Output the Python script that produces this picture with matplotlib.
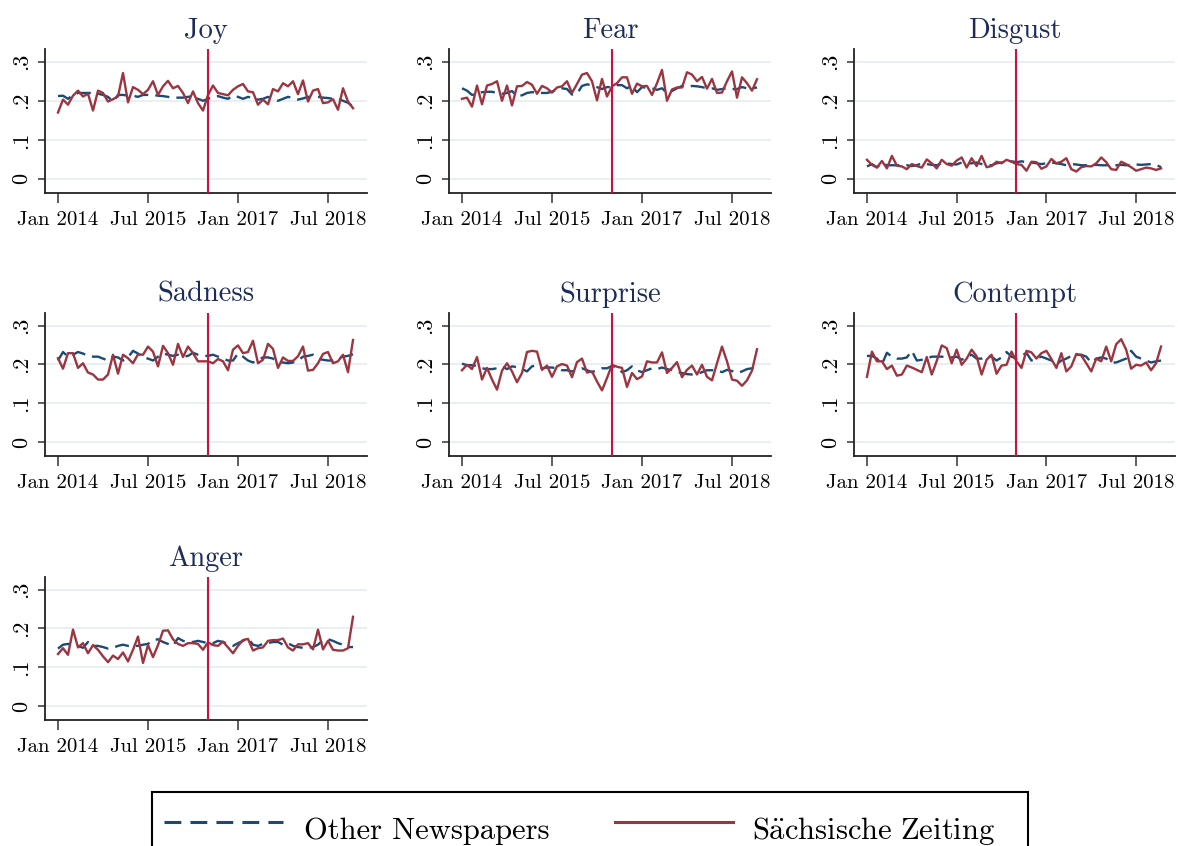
import matplotlib
matplotlib.use("Agg")
import matplotlib.pyplot as plt
from matplotlib.lines import Line2D
from matplotlib.patches import Rectangle

plt.rcParams['font.family'] = ['cmr10', 'DejaVu Serif']
plt.rcParams['mathtext.fontset'] = 'cm'
plt.rcParams['axes.unicode_minus'] = False

# ---- data (monthly, Jan 2014 - Dec 2018) ----
months = list(range(60))
tick_pos = [0, 18, 36, 54]
tick_labels = ["Jan 2014", "Jul 2015", "Jan 2017", "Jul 2018"]
ytick_vals = [0, 0.1, 0.2, 0.3]
ytick_labels = ["0", ".1", ".2", ".3"]
event_month = 30  # Jul 2016

panels = ["Joy", "Fear", "Disgust", "Sadness", "Surprise", "Contempt", "Anger"]

joy_sz = [0.170, 0.203, 0.190, 0.213, 0.226, 0.211, 0.218, 0.175, 0.226, 0.220,
          0.198, 0.204, 0.211, 0.271, 0.196, 0.235, 0.228, 0.217, 0.228, 0.250,
          0.215, 0.237, 0.251, 0.232, 0.238, 0.220, 0.194, 0.224, 0.194, 0.175,
          0.215, 0.239, 0.220, 0.217, 0.214, 0.228, 0.237, 0.243, 0.224, 0.222,
          0.190, 0.203, 0.191, 0.230, 0.224, 0.245, 0.237, 0.250, 0.217, 0.252,
          0.198, 0.226, 0.230, 0.194, 0.196, 0.204, 0.177, 0.232, 0.198, 0.181]
joy_other = [0.212, 0.213, 0.205, 0.215, 0.220, 0.220, 0.220, 0.220, 0.218, 0.215,
             0.210, 0.198, 0.215, 0.215, 0.213, 0.213, 0.210, 0.215, 0.215, 0.215,
             0.213, 0.212, 0.210, 0.208, 0.208, 0.208, 0.210, 0.212, 0.205, 0.200,
             0.205, 0.210, 0.212, 0.208, 0.205, 0.213, 0.210, 0.205, 0.210, 0.207,
             0.203, 0.205, 0.210, 0.205, 0.200, 0.205, 0.210, 0.207, 0.203, 0.206,
             0.210, 0.210, 0.210, 0.208, 0.207, 0.205, 0.205, 0.200, 0.195, 0.185]

fear_sz = [0.205, 0.208, 0.185, 0.239, 0.191, 0.239, 0.243, 0.250, 0.200, 0.239,
           0.188, 0.237, 0.238, 0.248, 0.241, 0.218, 0.238, 0.232, 0.221, 0.234,
           0.237, 0.250, 0.220, 0.243, 0.267, 0.271, 0.250, 0.201, 0.256, 0.211,
           0.237, 0.245, 0.260, 0.260, 0.218, 0.244, 0.237, 0.238, 0.215, 0.245,
           0.279, 0.200, 0.229, 0.234, 0.234, 0.273, 0.267, 0.250, 0.261, 0.231,
           0.256, 0.220, 0.221, 0.250, 0.275, 0.208, 0.260, 0.245, 0.226, 0.255]
fear_other = [0.232, 0.226, 0.215, 0.217, 0.222, 0.223, 0.223, 0.220, 0.218, 0.220,
              0.225, 0.212, 0.214, 0.220, 0.222, 0.222, 0.220, 0.220, 0.223, 0.230,
              0.232, 0.230, 0.216, 0.218, 0.238, 0.242, 0.240, 0.235, 0.230, 0.235,
              0.235, 0.240, 0.240, 0.232, 0.238, 0.222, 0.235, 0.233, 0.232, 0.228,
              0.232, 0.220, 0.225, 0.232, 0.238, 0.235, 0.238, 0.237, 0.235, 0.232,
              0.232, 0.228, 0.230, 0.232, 0.230, 0.230, 0.235, 0.232, 0.232, 0.234]

disgust_sz = [0.049, 0.036, 0.029, 0.046, 0.027, 0.059, 0.034, 0.032, 0.025, 0.038,
              0.033, 0.029, 0.050, 0.040, 0.027, 0.049, 0.038, 0.034, 0.047, 0.055,
              0.029, 0.053, 0.033, 0.059, 0.030, 0.033, 0.044, 0.040, 0.049, 0.044,
              0.038, 0.036, 0.021, 0.044, 0.043, 0.026, 0.032, 0.051, 0.040, 0.044,
              0.053, 0.025, 0.019, 0.030, 0.033, 0.032, 0.040, 0.055, 0.043, 0.025,
              0.023, 0.044, 0.038, 0.030, 0.021, 0.025, 0.029, 0.027, 0.023, 0.027]
disgust_other = [0.032, 0.038, 0.030, 0.040, 0.035, 0.035, 0.035, 0.035, 0.035, 0.033,
                 0.035, 0.040, 0.038, 0.036, 0.035, 0.040, 0.040, 0.038, 0.037, 0.042,
                 0.040, 0.040, 0.042, 0.038, 0.036, 0.035, 0.040, 0.042, 0.045, 0.045,
                 0.043, 0.045, 0.043, 0.042, 0.040, 0.038, 0.040, 0.042, 0.040, 0.038,
                 0.035, 0.038, 0.037, 0.035, 0.035, 0.035, 0.036, 0.035, 0.035, 0.035,
                 0.035, 0.036, 0.035, 0.036, 0.037, 0.036, 0.037, 0.038, 0.036, 0.030]

sadness_sz = [0.216, 0.189, 0.229, 0.229, 0.191, 0.203, 0.179, 0.174, 0.161, 0.161,
              0.174, 0.225, 0.176, 0.225, 0.216, 0.203, 0.226, 0.225, 0.246, 0.233,
              0.195, 0.248, 0.229, 0.199, 0.253, 0.219, 0.246, 0.229, 0.208, 0.208,
              0.208, 0.203, 0.214, 0.208, 0.185, 0.238, 0.249, 0.229, 0.232, 0.261,
              0.203, 0.212, 0.253, 0.240, 0.191, 0.218, 0.209, 0.209, 0.221, 0.246,
              0.184, 0.186, 0.203, 0.227, 0.232, 0.203, 0.208, 0.225, 0.180, 0.263]
sadness_other = [0.210, 0.232, 0.220, 0.225, 0.232, 0.228, 0.222, 0.220, 0.220, 0.215,
                 0.210, 0.220, 0.218, 0.210, 0.218, 0.235, 0.228, 0.218, 0.215, 0.210,
                 0.220, 0.228, 0.225, 0.222, 0.225, 0.220, 0.222, 0.230, 0.225, 0.222,
                 0.222, 0.225, 0.220, 0.215, 0.210, 0.210, 0.228, 0.220, 0.210, 0.205,
                 0.212, 0.218, 0.218, 0.215, 0.205, 0.205, 0.203, 0.205, 0.210, 0.220,
                 0.222, 0.225, 0.215, 0.212, 0.210, 0.210, 0.215, 0.220, 0.222, 0.226]

surprise_sz = [0.185, 0.199, 0.188, 0.219, 0.161, 0.191, 0.161, 0.135, 0.184, 0.203,
               0.182, 0.154, 0.178, 0.232, 0.235, 0.233, 0.186, 0.197, 0.168, 0.195,
               0.201, 0.197, 0.167, 0.206, 0.215, 0.179, 0.182, 0.156, 0.133, 0.165,
               0.199, 0.194, 0.191, 0.142, 0.178, 0.162, 0.169, 0.208, 0.205, 0.205,
               0.231, 0.178, 0.191, 0.206, 0.167, 0.186, 0.197, 0.174, 0.199, 0.168,
               0.159, 0.203, 0.246, 0.208, 0.161, 0.158, 0.145, 0.159, 0.184, 0.239]
surprise_other = [0.202, 0.198, 0.198, 0.196, 0.190, 0.188, 0.188, 0.190, 0.195, 0.188,
                  0.195, 0.193, 0.188, 0.182, 0.195, 0.198, 0.190, 0.192, 0.192, 0.190,
                  0.185, 0.185, 0.182, 0.185, 0.190, 0.185, 0.180, 0.185, 0.190, 0.190,
                  0.196, 0.192, 0.180, 0.185, 0.195, 0.185, 0.180, 0.185, 0.190, 0.188,
                  0.192, 0.188, 0.185, 0.180, 0.178, 0.175, 0.174, 0.175, 0.180, 0.185,
                  0.185, 0.185, 0.180, 0.186, 0.183, 0.178, 0.182, 0.188, 0.190, 0.182]

contempt_sz = [0.168, 0.233, 0.208, 0.208, 0.188, 0.197, 0.171, 0.174, 0.197, 0.192,
               0.186, 0.180, 0.219, 0.174, 0.209, 0.249, 0.242, 0.203, 0.238, 0.199,
               0.215, 0.238, 0.221, 0.174, 0.212, 0.225, 0.176, 0.197, 0.199, 0.233,
               0.208, 0.191, 0.235, 0.231, 0.215, 0.229, 0.235, 0.214, 0.191, 0.229,
               0.182, 0.195, 0.227, 0.223, 0.203, 0.182, 0.215, 0.208, 0.246, 0.208,
               0.252, 0.265, 0.238, 0.189, 0.199, 0.197, 0.205, 0.185, 0.203, 0.246]
contempt_other = [0.222, 0.222, 0.215, 0.200, 0.230, 0.220, 0.215, 0.215, 0.218, 0.235,
                  0.210, 0.212, 0.215, 0.220, 0.220, 0.220, 0.218, 0.218, 0.220, 0.212,
                  0.220, 0.225, 0.215, 0.215, 0.222, 0.220, 0.210, 0.218, 0.232, 0.220,
                  0.215, 0.222, 0.230, 0.210, 0.215, 0.220, 0.215, 0.210, 0.200, 0.210,
                  0.215, 0.222, 0.225, 0.225, 0.220, 0.205, 0.215, 0.218, 0.215, 0.205,
                  0.205, 0.210, 0.215, 0.235, 0.220, 0.215, 0.210, 0.205, 0.208, 0.210]

anger_sz = [0.134, 0.149, 0.132, 0.197, 0.151, 0.162, 0.136, 0.157, 0.145, 0.128,
            0.113, 0.130, 0.121, 0.138, 0.115, 0.145, 0.179, 0.111, 0.157, 0.126,
            0.157, 0.194, 0.195, 0.172, 0.160, 0.155, 0.162, 0.162, 0.160, 0.145,
            0.164, 0.157, 0.155, 0.166, 0.151, 0.136, 0.155, 0.170, 0.173, 0.143,
            0.149, 0.151, 0.168, 0.170, 0.170, 0.174, 0.151, 0.143, 0.159, 0.159,
            0.162, 0.146, 0.197, 0.146, 0.168, 0.145, 0.143, 0.143, 0.149, 0.230]
anger_other = [0.148, 0.158, 0.160, 0.158, 0.155, 0.150, 0.165, 0.155, 0.155, 0.152,
               0.148, 0.150, 0.155, 0.158, 0.155, 0.155, 0.155, 0.158, 0.160, 0.170,
               0.172, 0.165, 0.160, 0.155, 0.175, 0.168, 0.165, 0.165, 0.168, 0.165,
               0.162, 0.162, 0.168, 0.165, 0.160, 0.155, 0.162, 0.168, 0.175, 0.158,
               0.155, 0.160, 0.162, 0.165, 0.165, 0.158, 0.162, 0.155, 0.152, 0.150,
               0.150, 0.152, 0.158, 0.170, 0.172, 0.168, 0.162, 0.158, 0.152, 0.152]

series_other = [joy_other, fear_other, disgust_other, sadness_other,
                surprise_other, contempt_other, anger_other]
series_sz = [joy_sz, fear_sz, disgust_sz, sadness_sz,
             surprise_sz, contempt_sz, anger_sz]

legend_labels = ["Other Newspapers", r"$\mathrm{S\ddot{a}chsische\ Zeiting}$"]

# ---- styling ----
BLUE = "#1a4a78"
RED = "#9b3540"
VLINE = "#cc1040"
TITLE = "#1c2b5a"
GRID = "#e6eff2"

W, H = 1178, 846
fig = plt.figure(figsize=(W / 100, H / 100), dpi=100)

col_left = [45, 449, 854]
col_right = [367, 771, 1175]
row_top = [49, 313, 577]
row_bot = [193, 456, 720]

for k, name in enumerate(panels):
    r, c = divmod(k, 3)
    l = col_left[c] / W
    b = 1 - row_bot[r] / H
    w = (col_right[c] - col_left[c]) / W
    h = (row_bot[r] - row_top[r]) / H
    ax = fig.add_axes([l, b, w, h])
    ax.set_xlim(-2.6, 61.8)
    ax.set_ylim(-0.036, 0.3325)
    for yv in ytick_vals:
        ax.axhline(yv, color=GRID, lw=1.3, zorder=0)
    ax.plot(months, series_other[k], color=BLUE, lw=1.7, dashes=(6, 3), zorder=2)
    ax.plot(months, series_sz[k], color=RED, lw=1.7, zorder=3)
    ax.axvline(event_month, color=VLINE, lw=1.5, zorder=4)
    ax.set_xticks(tick_pos)
    ax.set_xticklabels(tick_labels, fontsize=15)
    ax.set_yticks(ytick_vals)
    ax.set_yticklabels(ytick_labels, fontsize=16, rotation=90, va='center')
    ax.tick_params(axis='x', length=7, width=1.1, pad=6, color='#333333')
    ax.tick_params(axis='y', length=5, width=1.1, pad=5, color='#333333')
    for s in ['top', 'right']:
        ax.spines[s].set_visible(False)
    for s in ['left', 'bottom']:
        ax.spines[s].set_linewidth(1.3)
        ax.spines[s].set_color('#222222')
    ax.set_title(name, fontsize=20.5, color=TITLE, pad=8)

# ---- legend (box runs off the bottom edge) ----
rect = Rectangle((152 / W, 1 - 880 / H), (1028 - 152) / W, (880 - 792) / H,
                 transform=fig.transFigure, fill=False, edgecolor='black',
                 lw=1.5, clip_on=False)
fig.add_artist(rect)
ly = 1 - 822 / H
fig.add_artist(Line2D([164 / W, 283 / W], [ly, ly], transform=fig.transFigure,
                      color=BLUE, lw=2.2, dashes=(5.5, 3)))
fig.add_artist(Line2D([615 / W, 733 / W], [ly, ly], transform=fig.transFigure,
                      color=RED, lw=2.2))
ty = 1 - 831 / H
fig.text(304 / W, ty, legend_labels[0], fontsize=22, va='center', ha='left')
fig.text(752 / W, ty, legend_labels[1], fontsize=22, va='center', ha='left')

fig.savefig("out.png", dpi=100)
